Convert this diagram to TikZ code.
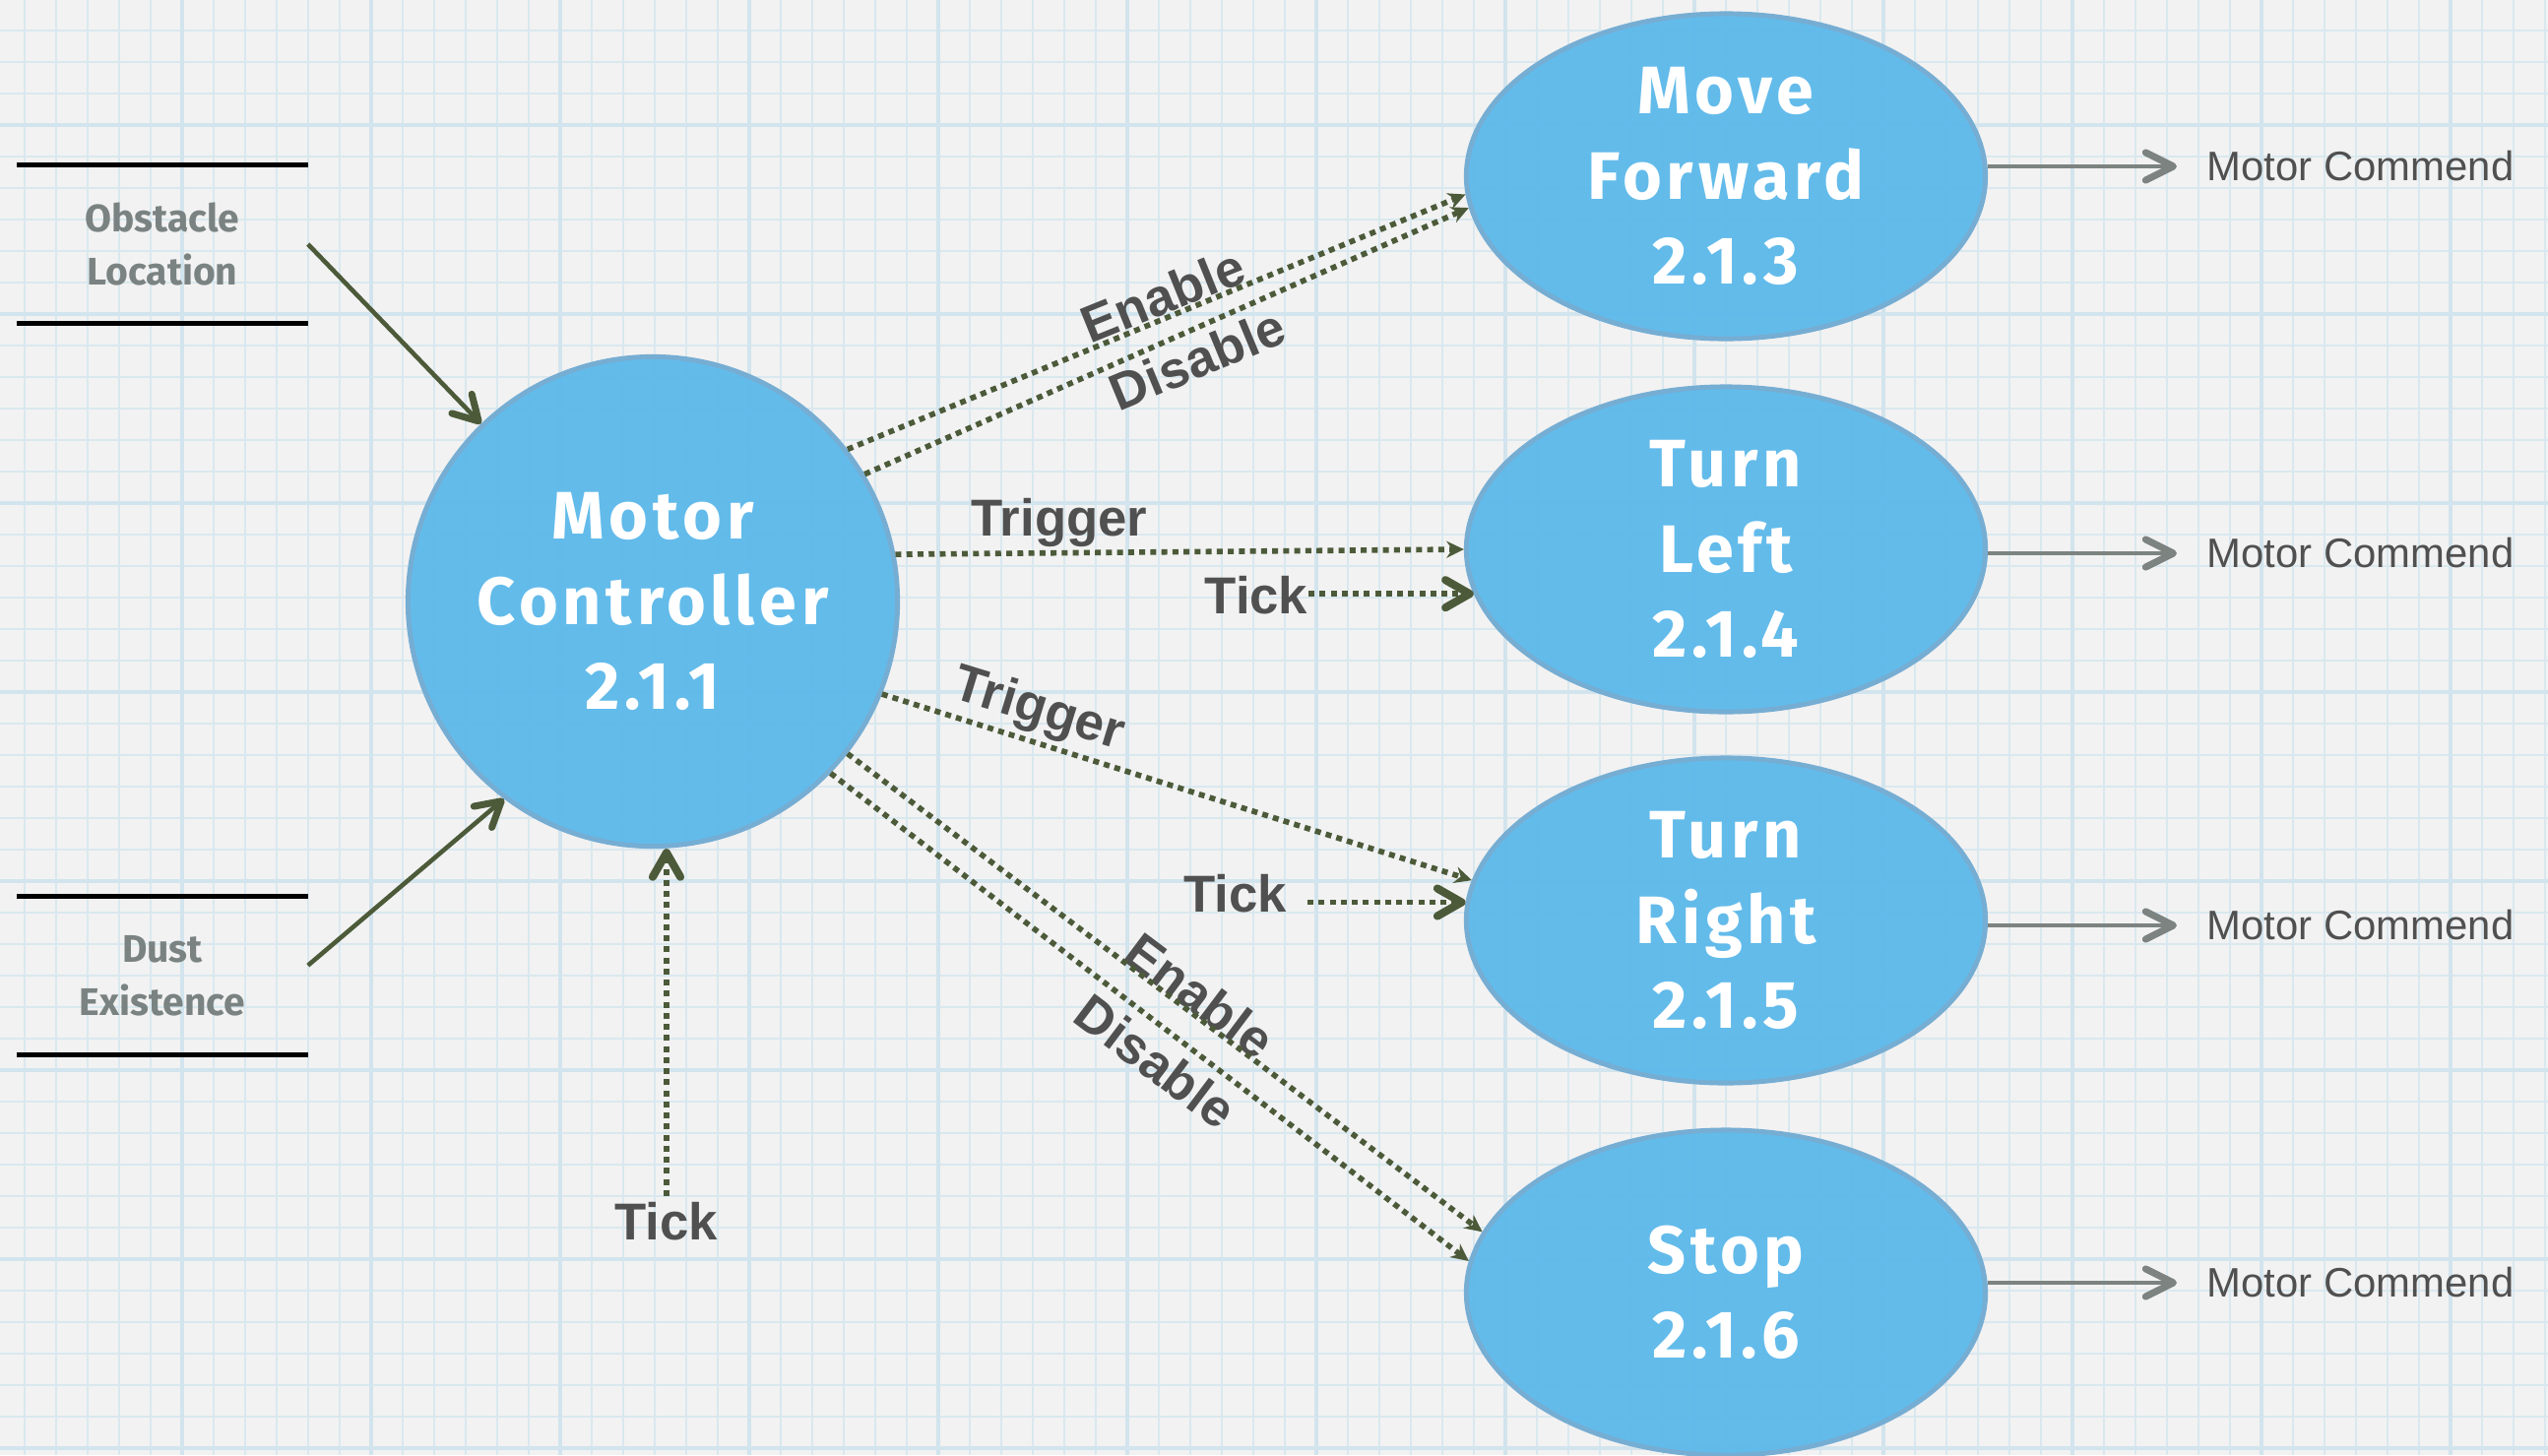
\documentclass[tikz,border=0pt]{standalone}
\usepackage{fontspec}
\setmainfont{Liberation Sans}
\newfontfamily\bubblefont[LetterSpace=7]{Fira Sans}
\newfontfamily\storefont{Fira Sans}
\usetikzlibrary{shapes.geometric,arrows.meta}

\definecolor{paper}{HTML}{F2F2F2}
\definecolor{gridblue}{HTML}{D9E8EF}
\definecolor{gridbold}{HTML}{D2E4ED}
\definecolor{bubblefill}{HTML}{5BB8EA}
\definecolor{bubbleedge}{HTML}{76ADD3}
\definecolor{flow}{HTML}{4C5A39}
\definecolor{labelgray}{HTML}{505050}
\definecolor{cmdgray}{HTML}{7C8380}
\definecolor{storegray}{HTML}{7A8381}

\begin{document}
\begin{tikzpicture}[x=0.01cm,y=-0.01cm,
  gridthin/.style={draw=gridblue,line width=0.5pt},
  gridthick/.style={draw=gridbold,line width=0.9pt},
  bubblebase/.style={draw=bubbleedge,line width=1.4pt,fill=bubblefill,
    fill opacity=0.94,text opacity=1,inner sep=0pt,
    text=white,align=center,
    font=\bubblefont\bfseries\fontsize{19.4}{24.6}\selectfont},
  bubble/.style={bubblebase,ellipse,minimum width=5.27cm,minimum height=3.30cm},
  hub/.style={bubblebase,circle,minimum size=4.97cm},
  store/.style={minimum width=2.94cm,minimum height=1.60cm,inner sep=0pt,
    align=center,text=storegray,
    font=\storefont\bfseries\fontsize{11.1}{15.4}\selectfont},
  storeline/.style={draw=black,line width=1.5pt},
  flowlabel/.style={text=labelgray,inner sep=0pt,
    font=\bfseries\fontsize{15}{18}\selectfont},
  cmdlabel/.style={text=labelgray,inner sep=0pt,anchor=west,
    font=\fontsize{11.9}{14}\selectfont},
  flowdot/.style={draw=flow,line width=1.6pt,line cap=butt,
    dash pattern=on 1.7pt off 1.5pt,-{Stealth[length=5pt,width=4.8pt]}},
  tickflow/.style={draw=flow,line width=1.6pt,line cap=butt,
    dash pattern=on 1.7pt off 1.5pt,
    -{Straight Barb[length=7pt,width=8pt,line width=2.3pt,round]}},
  inflow/.style={draw=flow,line width=1.3pt,
    -{Straight Barb[length=7pt,width=8pt,line width=2pt,round]}},
  cmdflow/.style={draw=cmdgray,line width=1.4pt,shorten >=0.3cm,
    -{Straight Barb[length=8pt,width=8pt,line width=2pt,round]}}
]
\useasboundingbox (0,0) rectangle (2588,1478);
\clip (0,0) rectangle (2588,1478);

% graph paper
\fill[paper] (0,0) rectangle (2588,1478);
\foreach \k in {0,...,80} \draw[gridthin] (25+32*\k,0) -- (25+32*\k,1478);
\foreach \k in {0,...,45} \draw[gridthin] (0,31+32*\k) -- (2588,31+32*\k);
\foreach \k in {5,11,...,77} \draw[gridthick] (25+32*\k,0) -- (25+32*\k,1478);
\foreach \k in {3,9,...,45} \draw[gridthick] (0,31+32*\k) -- (2588,31+32*\k);

% processes
\node[hub] (mc) at (663,611) {Motor\\Controller\\2.1.1};
\node[bubble] (mf) at (1753,179) {Move\\Forward\\2.1.3};
\node[bubble] (tl) at (1753,558) {Turn\\Left\\2.1.4};
\node[bubble] (tr) at (1753,935) {Turn\\Right\\2.1.5};
\node[bubble] (st) at (1753,1313) {Stop\\2.1.6};

% data stores
\node[store] (ob) at (165,248) {Obstacle\\Location};
\node[store] (ds) at (165,991) {Dust\\Existence};
\foreach \s in {ob,ds} {
  \draw[storeline] (\s.north west) -- (\s.north east);
  \draw[storeline] (\s.south west) -- (\s.south east);
}

% flow labels
\node[flowlabel,rotate=22] (enmf) at (1181,300) {Enable};
\node[flowlabel,rotate=22.5] (dimf) at (1216,365) {Disable};
\node[flowlabel] (trtl) at (1076,531) {Trigger};
\node[flowlabel] (tk1) at (1276,605) {Tick};
\node[flowlabel,rotate=-17] (trtr) at (1055,722) {Trigger};
\node[flowlabel] (tk2) at (1255,908) {Tick};
\node[flowlabel,rotate=-37] (enst) at (1219,1011) {Enable};
\node[flowlabel,rotate=-37] (dist) at (1174,1078) {Disable};
\node[flowlabel] (tkb) at (677,1241) {Tick};

% control flows
\draw[flowdot] (mc.38.7) -- (mf.184);
\draw[flowdot] (mc.31.6) -- (mf.187);
\draw[flowdot] (mc.11.75) -- (tl.180);
\draw[tickflow] (tk1.east |- tl.190) -- (tl.190);
\draw[flowdot] (mc.-22.2) -- (tr.171);
\draw[tickflow,shorten <=0.2cm] (tk2.east |- tr.176) -- (tr.176);
\draw[flowdot] (mc.-38.5) -- (st.166);
\draw[flowdot] (mc.-44.1) -- (st.173);
\draw[tickflow,shorten <=0.06cm] (tkb.north) -- (tkb.north |- mc.south);

% data flows
\draw[inflow] (ob.east) -- (mc.134.5);
\draw[inflow] (ds.4) -- (mc.233);

% outputs
\node[cmdlabel] (cm1) at (2241,169) {Motor Commend};
\node[cmdlabel] (cm2) at (2241,562) {Motor Commend};
\node[cmdlabel] (cm3) at (2241,940) {Motor Commend};
\node[cmdlabel] (cm4) at (2241,1303) {Motor Commend};
\draw[cmdflow] (mf.east |- cm1.west) -- (cm1.west);
\draw[cmdflow] (tl.east |- cm2.west) -- (cm2.west);
\draw[cmdflow] (tr.east |- cm3.west) -- (cm3.west);
\draw[cmdflow] (st.east |- cm4.west) -- (cm4.west);
\end{tikzpicture}
\end{document}
